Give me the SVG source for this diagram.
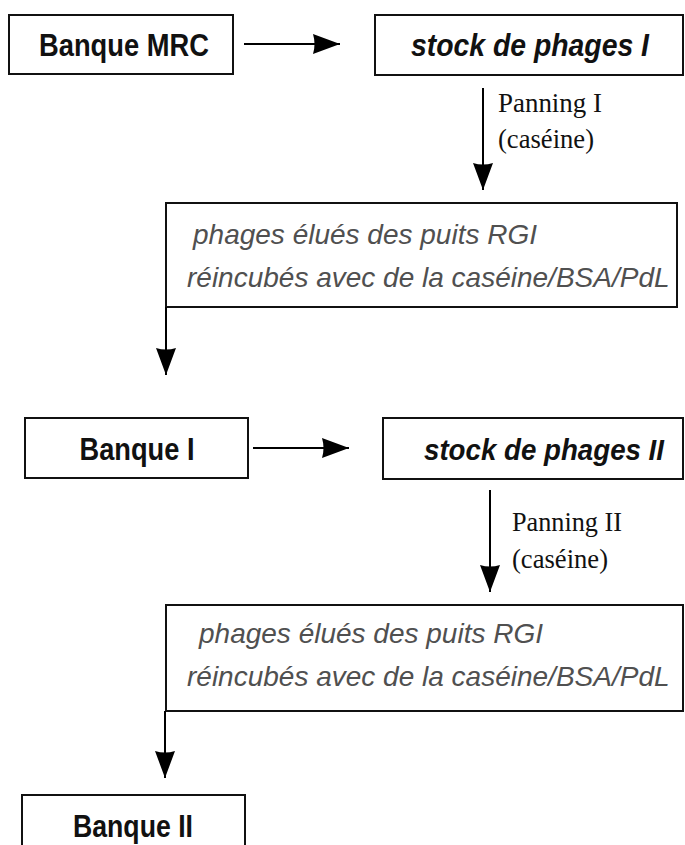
<svg xmlns="http://www.w3.org/2000/svg" width="685" height="845" viewBox="0 0 685 845">
  <style>
    .box { fill: #ffffff; stroke: #111111; stroke-width: 2; }
    .link { fill: none; stroke: #000000; stroke-width: 2; }
    .bank { font-family: "Liberation Sans", Arial, sans-serif; font-weight: bold; font-size: 32px; fill: #111111; text-anchor: middle; }
    .stock { font-family: "Liberation Sans", Arial, sans-serif; font-weight: bold; font-style: italic; font-size: 31px; fill: #111111; text-anchor: middle; }
    .stock-narrow { font-size: 29px; }
    .eluted { font-family: "Liberation Sans", Arial, sans-serif; font-style: italic; font-size: 28px; fill: #505050; }
    .step { font-family: "Liberation Serif", "Times New Roman", serif; font-size: 28px; fill: #111111; }
  </style>
  <defs>
    <marker id="head" markerUnits="userSpaceOnUse" markerWidth="28" markerHeight="22" viewBox="0 0 28 22" refX="27" refY="11" orient="auto">
      <path d="M0,1 L27,11 L0,21 Q3,11 0,1 z" fill="#000000"/>
    </marker>
  </defs>

  <!-- row 1 -->
  <g id="banque-mrc">
    <rect class="box" x="9" y="15" width="224" height="59"/>
    <text class="bank" x="124" y="56" textLength="170" lengthAdjust="spacingAndGlyphs">Banque MRC</text>
  </g>
  <g id="stock-1">
    <rect class="box" x="375" y="15" width="308" height="60"/>
    <text class="stock" x="530" y="56" textLength="238" lengthAdjust="spacingAndGlyphs">stock de phages I</text>
  </g>
  <g id="panning-1">
    <text class="step" x="498" y="112" textLength="104" lengthAdjust="spacingAndGlyphs">Panning I</text>
    <text class="step" x="498" y="148" textLength="96" lengthAdjust="spacingAndGlyphs">(caséine)</text>
  </g>
  <g id="eluted-1">
    <rect class="box" x="166" y="203" width="511" height="104"/>
    <text class="eluted" x="193" y="244">phages élués des puits RGI</text>
    <text class="eluted" x="187" y="287">réincubés avec de la caséine/BSA/PdL</text>
  </g>

  <!-- row 2 -->
  <g id="banque-1">
    <rect class="box" x="25" y="418" width="223" height="60"/>
    <text class="bank" x="137" y="460" textLength="115" lengthAdjust="spacingAndGlyphs">Banque I</text>
  </g>
  <g id="stock-2">
    <rect class="box" x="383" y="418" width="300" height="61"/>
    <text class="stock stock-narrow" x="544" y="460" textLength="240" lengthAdjust="spacingAndGlyphs">stock de phages II</text>
  </g>
  <g id="panning-2">
    <text class="step" x="512" y="531" textLength="110" lengthAdjust="spacingAndGlyphs">Panning II</text>
    <text class="step" x="512" y="568" textLength="96" lengthAdjust="spacingAndGlyphs">(caséine)</text>
  </g>
  <g id="eluted-2">
    <rect class="box" x="166" y="605" width="517" height="106"/>
    <text class="eluted" x="199" y="643">phages élués des puits RGI</text>
    <text class="eluted" x="187" y="686">réincubés avec de la caséine/BSA/PdL</text>
  </g>

  <!-- row 3 -->
  <g id="banque-2">
    <rect class="box" x="22" y="795" width="223" height="60"/>
    <text class="bank" x="133" y="837" textLength="120" lengthAdjust="spacingAndGlyphs">Banque II</text>
  </g>

  <!-- connectors -->
  <g id="connectors">
    <line class="link" x1="244" y1="44" x2="340" y2="44" marker-end="url(#head)"/>
    <line class="link" x1="483" y1="88" x2="483" y2="190" marker-end="url(#head)"/>
    <line class="link" x1="166" y1="307" x2="166" y2="375" marker-end="url(#head)"/>
    <line class="link" x1="253" y1="448" x2="349" y2="448" marker-end="url(#head)"/>
    <line class="link" x1="490" y1="490" x2="490" y2="592" marker-end="url(#head)"/>
    <line class="link" x1="165" y1="711" x2="165" y2="778" marker-end="url(#head)"/>
  </g>
</svg>
